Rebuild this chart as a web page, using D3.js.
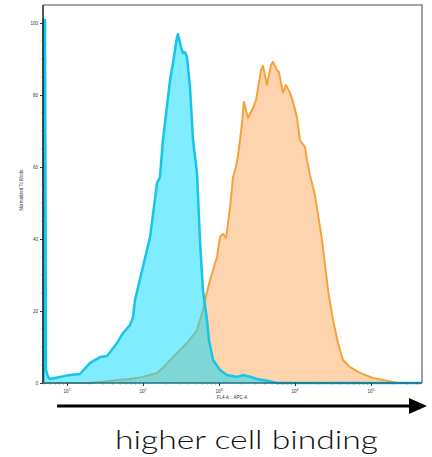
<!DOCTYPE html>
<html>
<head>
<meta charset="utf-8">
<script src="https://cdn.jsdelivr.net/npm/d3@7"></script>
<style>
  html, body { margin: 0; padding: 0; background: #fff; }
  svg { display: block; }
</style>
</head>
<body>
<svg id="chart" width="432" height="457"></svg>
<script>
// ---- Data (FL4-A :: APC-A intensity, % of mode) ----
const cyanX = [4.91, 4.91, 5.13, 5.29, 5.62, 5.98, 6.95, 8.09, 10.9, 14.8, 20.1, 27.2, 33.6, 45.5, 54.6, 67.5, 73.9, 78.5,
  124, 153, 167, 183, 227, 248, 280, 289, 316, 336, 357, 379, 415, 455, 514, 562, 615, 695, 738, 834,
  1030, 1270, 1730, 2070, 2410, 3160, 4280, 5800, 100000, 460000];
const cyanY = [0, 100.8, 100.8, 3.6, 1.7, 1.1, 1.4, 1.7, 2.2, 2.5, 5.6, 7.2, 7.5, 11.1, 13.9, 16.1, 18.3, 23.1,
  40.6, 55.6, 57.2, 67.5, 84.2, 88.9, 96.1, 96.9, 93.3, 91.7, 91.9, 90.6, 82.2, 67.5, 58.3, 39.7, 25.8, 17.5, 11.9, 6.4,
  3.6, 2.2, 1.7, 2.2, 1.9, 1.1, 0.6, 0, 0, 0];

const orangeX = [4.91, 20.1, 45.5, 67.5, 100, 153, 183, 248, 379, 514, 615, 655, 762, 942, 1030, 1130, 1240, 1400,
  1530, 1670, 1780, 1890, 2010, 2130, 2410, 2800, 3070, 3570, 3790, 4280, 4830, 5140, 5800, 6150, 6950, 7620,
  8590, 9410, 10600, 11600, 13500, 14400, 15700, 18300, 22700, 27200, 31600, 36800, 42800, 53000, 71700,
  106000, 163000, 220000];
const orangeY = [0, 0, 0.8, 1.1, 1.7, 2.8, 4.2, 7.2, 11.1, 14.7, 20.3, 23.1, 28.6, 35.0, 40.6, 41.4, 40.3, 48.9,
  57.2, 60.0, 63.3, 67.5, 72.2, 78.1, 73.6, 76.4, 78.6, 86.9, 88.1, 82.8, 88.3, 89.2, 86.9, 86.4, 80.6, 82.8,
  80.6, 78.1, 73.9, 67.5, 65.6, 61.9, 57.8, 52.2, 39.7, 25.8, 17.5, 11.1, 6.4, 4.4, 2.8,
  1.4, 0.6, 0];

const xTickExps = [1, 2, 3, 4, 5];
const yTicks = [0, 20, 40, 60, 80, 100];
const xAxisTitle = "FL4-A :: APC-A";
const yAxisTitle = "Normalized To Mode";
const arrowCaption = "higher cell binding";

// ---- Layout ----
const svg = d3.select("#chart");
const L = 43, R = 422, T = 5, B = 383;

const x = d3.scaleLog().domain([4.83, 469000]).range([L, R]);
const y = d3.scaleLinear().domain([0, 105]).range([B, T]);

const orange = orangeX.map((v, i) => [v, orangeY[i]]);
const cyan = cyanX.map((v, i) => [v, cyanY[i]]);

const area = d3.area().x(d => x(d[0])).y0(y(0)).y1(d => y(d[1]));
const line = d3.line().x(d => x(d[0])).y(d => y(d[1]));

// frame (top/right in gray)
svg.append("path")
  .attr("d", `M${L},${T}H${R}V${B}`)
  .attr("fill", "none").attr("stroke", "#8a8a8a").attr("stroke-width", 1.6);

// orange histogram
svg.append("path").datum(orange).attr("d", area)
  .attr("fill", "#fdd4ad");
svg.append("path").datum(orange).attr("d", line)
  .attr("fill", "none").attr("stroke", "#f6a23c").attr("stroke-width", 2)
  .attr("stroke-linejoin", "round");

// cyan histogram (semi-transparent fill)
svg.append("path").datum(cyan).attr("d", area)
  .attr("fill", "rgb(0,218,255)").attr("fill-opacity", 0.5);
svg.append("path").datum(cyan).attr("d", line)
  .attr("fill", "none").attr("stroke", "#17c4ea").attr("stroke-width", 2.5)
  .attr("stroke-linejoin", "round");

// y axis
const yAxis = d3.axisLeft(y).tickValues(yTicks).tickSize(3).tickPadding(2)
  .tickFormat(d3.format("d"));
const gy = svg.append("g").attr("transform", `translate(${L},0)`).call(yAxis);
gy.select(".domain").attr("d", `M0,${B}V${T}`).attr("stroke", "#222").attr("stroke-width", 1.5);
gy.selectAll("text").attr("font-size", 4.5).attr("font-family", "Liberation Sans, Arial, sans-serif").attr("fill", "#333");
gy.selectAll(".tick line").attr("stroke", "#333");
// minor y ticks
svg.append("g").selectAll("line").data(d3.range(5, 105, 5).filter(v => v % 20 !== 0))
  .join("line")
  .attr("x1", L - 1.5).attr("x2", L).attr("y1", d => y(d)).attr("y2", d => y(d))
  .attr("stroke", "#555").attr("stroke-width", 0.8);

// x axis
const xAxis = d3.axisBottom(x).tickValues(xTickExps.map(e => Math.pow(10, e))).tickSize(3).tickFormat("");
const gx = svg.append("g").attr("transform", `translate(0,${B})`).call(xAxis);
gx.select(".domain").attr("d", `M${L},0H${R}`).attr("stroke", "#1e6f80").attr("stroke-width", 1.6);
gx.selectAll(".tick line").attr("stroke", "#333");
// minor x ticks
const minor = [];
for (let e = 0; e <= 5; e++) for (let m = 2; m <= 9; m++) {
  const v = m * Math.pow(10, e);
  if (v > x.domain()[0] && v < x.domain()[1]) minor.push(v);
}
svg.append("g").selectAll("line").data(minor).join("line")
  .attr("x1", d => x(d)).attr("x2", d => x(d)).attr("y1", B).attr("y2", B + 1.5)
  .attr("stroke", "#555").attr("stroke-width", 0.6);
// x tick labels 10^n
const xl = svg.append("g").selectAll("text").data(xTickExps).join("text")
  .attr("x", d => x(Math.pow(10, d))).attr("y", B + 10)
  .attr("text-anchor", "middle")
  .attr("font-size", 4.5).attr("font-family", "Liberation Sans, Arial, sans-serif").attr("fill", "#333");
xl.append("tspan").text("10");
xl.append("tspan").attr("dy", -2).attr("font-size", 3.5).text(d => d);

// axis titles
svg.append("text").attr("x", 232).attr("y", 399).attr("text-anchor", "middle")
  .attr("font-size", 4.5).attr("font-family", "Liberation Sans, Arial, sans-serif").attr("fill", "#333")
  .text(xAxisTitle);
svg.append("text").attr("transform", "translate(23,190) rotate(-90)").attr("text-anchor", "middle")
  .attr("font-size", 4.5).attr("font-family", "Liberation Sans, Arial, sans-serif").attr("fill", "#333")
  .text(yAxisTitle);

// arrow
svg.append("line").attr("x1", 57).attr("x2", 412).attr("y1", 406).attr("y2", 406)
  .attr("stroke", "#000").attr("stroke-width", 3);
svg.append("path").attr("d", "M409,398L427,406L409,414Z").attr("fill", "#000");

// caption
svg.append("text").attr("x", 115).attr("y", 449)
  .attr("font-size", 26).attr("font-weight", 300)
  .attr("font-family", "Lato, 'Open Sans', sans-serif").attr("fill", "#111")
  .attr("textLength", 263).attr("lengthAdjust", "spacingAndGlyphs")
  .text(arrowCaption);
</script>
</body>
</html>
